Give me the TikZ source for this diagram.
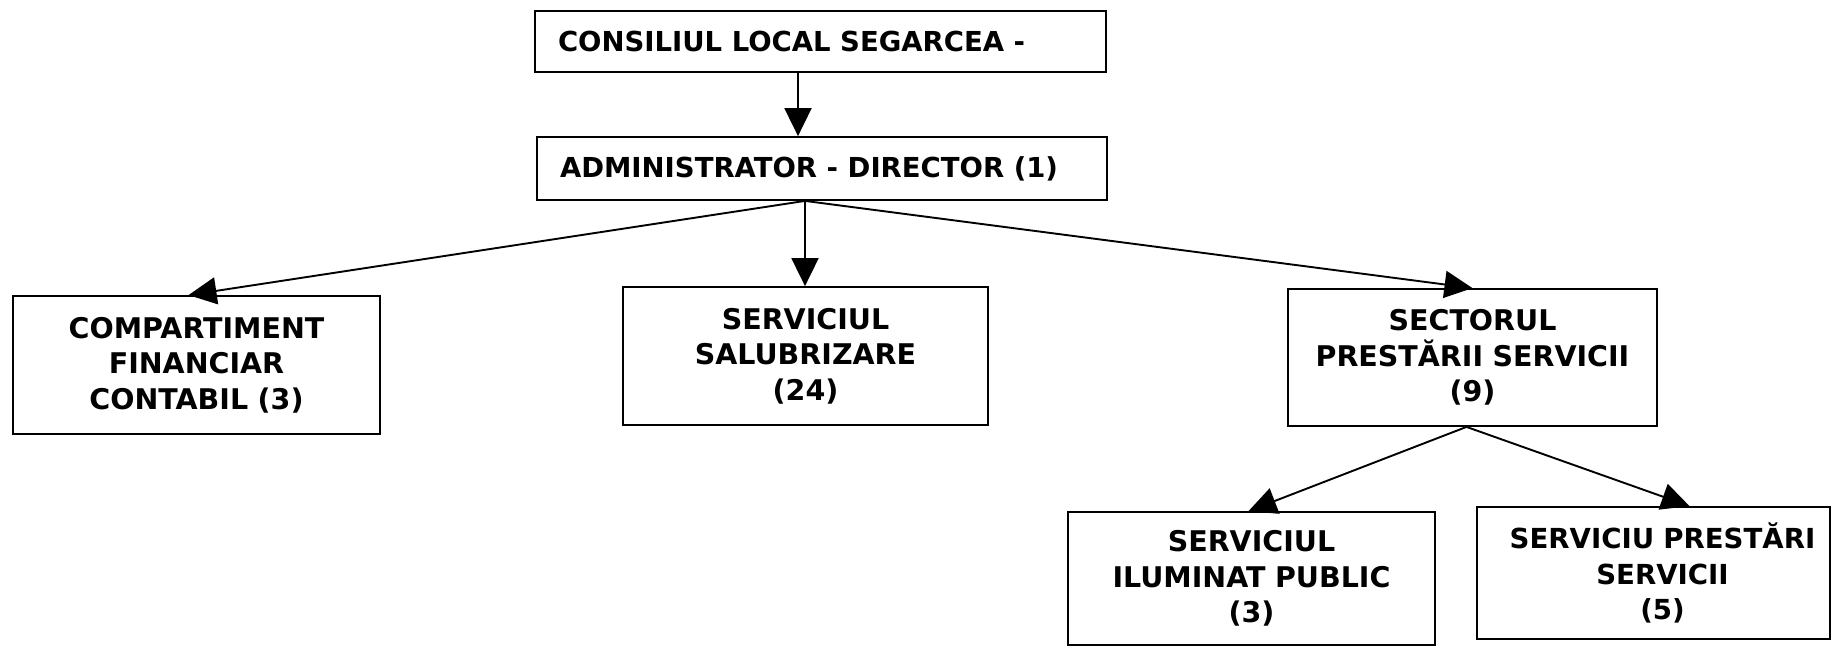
\documentclass[tikz,border=0pt]{standalone}
\usepackage{fontspec}
\setmainfont{DejaVu Sans}
\usetikzlibrary{arrows.meta}
\begin{document}
\begin{tikzpicture}[x=1pt,y=-1pt,
  topbox/.style={draw=black, line width=1.8pt, rectangle, inner xsep=23pt, inner ysep=0pt,
    font=\fontsize{27.5}{33}\selectfont\bfseries},
  unitbox/.style={draw=black, line width=1.8pt, rectangle, inner sep=0pt, align=center,
    font=\fontsize{28.5}{35.5}\selectfont\bfseries},
  link/.style={line width=1.9pt, -{Triangle[length=28pt,width=27pt]}}
]
\useasboundingbox[fill=white] (0,0) rectangle (1832,649);

\node[topbox, minimum height=61pt] (top) at (820.5,41.5) {\makebox[525pt][l]{CONSILIUL LOCAL SEGARCEA -}};
\node[topbox, minimum height=63pt] (admin) at (822,168.5) {\makebox[524pt][l]{ADMINISTRATOR - DIRECTOR (1)}};

\node[unitbox, minimum width=367pt, minimum height=138pt, text width=359pt] (comp) at (196.5,365)
  {COMPARTIMENT\\FINANCIAR\\CONTABIL (3)};
\node[unitbox, minimum width=365pt, minimum height=138pt, text width=357pt] (mid) at (805.5,356)
  {SERVICIUL\\SALUBRIZARE\\(24)};
\node[unitbox, minimum width=369pt, minimum height=137pt, text width=361pt] (sect) at (1472.5,357.5)
  {SECTORUL\\PRESTĂRII SERVICII\\(9)};
\node[unitbox, minimum width=367pt, minimum height=133pt, text width=359pt] (ilum) at (1251.5,578.5)
  {SERVICIUL\\ILUMINAT PUBLIC\\(3)};
\node[unitbox, minimum width=353pt, minimum height=132pt, text width=349pt,
  font=\fontsize{27.6}{35.5}\selectfont\bfseries] (spres) at (1653.5,573)
  {\hspace*{18pt}SERVICIU PRESTĂRI\\\hspace*{18pt}SERVICII\\\hspace*{18pt}(5)};

\coordinate (drop) at ([xshift=-22.5pt]top.south);
\coordinate (hub) at ([xshift=-17pt]admin.south);
\coordinate (split) at ([xshift=-6pt]sect.south);

\draw[link] (drop) -- (drop |- admin.north);
\draw[link] (hub) -- ([xshift=-8pt]comp.north);
\draw[link] (hub) -- (hub |- mid.north);
\draw[link] (hub) -- (sect.north);
\draw[link] (split) -- ([xshift=-3pt]ilum.north);
\draw[link] (split) -- ([xshift=36pt]spres.north);
\end{tikzpicture}
\end{document}
